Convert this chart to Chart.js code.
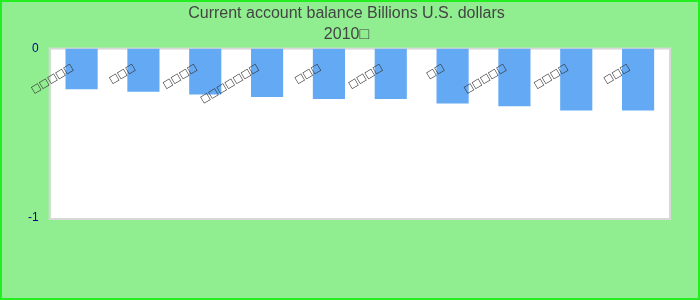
<!DOCTYPE html>
<html>
<head>
<meta charset="utf-8">
<script src="https://cdn.jsdelivr.net/npm/chart.js@4"></script>
<style>
  html, body { margin: 0; padding: 0; background: #90EE90; }
  #wrap { width: 700px; height: 300px; position: relative; }
</style>
</head>
<body>
<div id="wrap"><canvas id="c" width="700" height="300"></canvas></div>
<script>
const titleLines = ["Current account balance Billions U.S. dollars", "2010□"];
const categories = ["□□□□□", "□□□", "□□□□", "□□□□□□□", "□□□", "□□□□", "□□", "□□□□□", "□□□□", "□□□"];
const values = [-0.24, -0.254, -0.271, -0.285, -0.297, -0.297, -0.324, -0.341, -0.365, -0.365];
const yTicks = [0, -1];

const bgPlugin = {
  id: 'bg',
  beforeDraw(chart) {
    const ctx = chart.ctx, a = chart.chartArea;
    ctx.save();
    ctx.fillStyle = '#90EE90';
    ctx.fillRect(0, 0, chart.width, chart.height);
    ctx.strokeStyle = '#22ee22';
    ctx.lineWidth = 2;
    ctx.strokeRect(1, 1, chart.width - 2, chart.height - 2);
    ctx.fillStyle = '#ffffff';
    ctx.fillRect(a.left, a.top, a.right - a.left, a.bottom - a.top);
    ctx.strokeStyle = '#d8d8d8';
    ctx.lineWidth = 2;
    ctx.strokeRect(a.left - 1, a.top, a.right - a.left + 2, a.bottom - a.top + 1);
    ctx.restore();
  }
};

new Chart(document.getElementById('c'), {
  type: 'bar',
  data: {
    labels: categories,
    datasets: [{
      data: values,
      backgroundColor: '#63a9f4',
      borderWidth: 0,
      barPercentage: 0.52,
      categoryPercentage: 1.0
    }]
  },
  options: {
    responsive: false,
    animation: false,
    layout: { padding: { left: 24, right: 31, top: 0, bottom: 82 } },
    plugins: {
      legend: { display: false },
      tooltip: { enabled: false },
      title: {
        display: true,
        text: titleLines,
        color: '#444444',
        font: { family: 'Liberation Sans, Arial, sans-serif', size: 16, weight: 'normal', lineHeight: 1.3 },
        padding: { top: 3, bottom: 4 }
      }
    },
    scales: {
      x: {
        position: { y: 0 },
        grid: { display: false },
        border: { display: false },
        ticks: {
          z: 1,
          autoSkip: false,
          minRotation: 31,
          maxRotation: 31,
          labelOffset: -9,
          padding: 5,
          color: '#333333',
          font: { family: 'DejaVu Sans, sans-serif', size: 10 }
        }
      },
      y: {
        min: -1,
        max: 0,
        grid: { display: false },
        border: { display: false },
        afterBuildTicks(scale) { scale.ticks = yTicks.map(v => ({ value: v })); },
        ticks: {
          color: '#00008b',
          padding: 4,
          font: { family: 'Liberation Sans, Arial, sans-serif', size: 12 }
        }
      }
    }
  },
  plugins: [bgPlugin]
});
</script>
</body>
</html>
